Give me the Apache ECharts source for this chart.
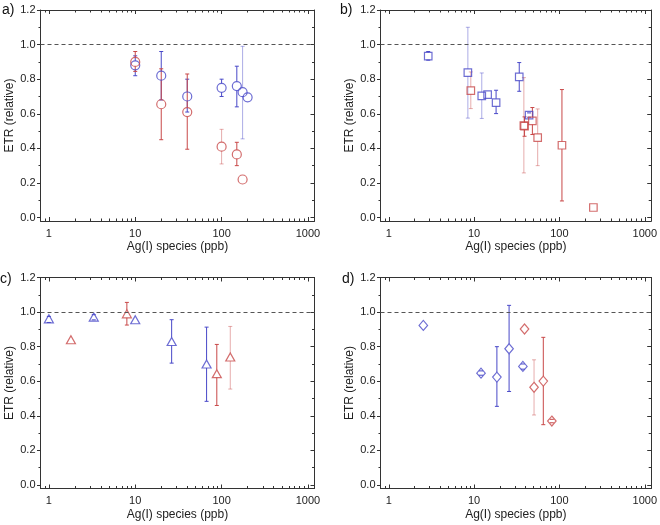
<!DOCTYPE html>
<html>
<head>
<meta charset="utf-8">
<script src="https://cdn.jsdelivr.net/npm/echarts@6/dist/echarts.min.js"></script>
<style>
html,body{margin:0;padding:0;background:#fff;}
#chart{width:660px;height:525px;}
</style>
</head>
<body>
<div id="chart"></div>
<script>
// ---- tick labels / ranges ----
const xTickLabels = [1, 10, 100, 1000];
const yTickLabels = [0.0, 0.2, 0.4, 0.6, 0.8, 1.0, 1.2];
const panelLabels = ['a)', 'b)', 'c)', 'd)'];
const xTitle = 'Ag(I) species (ppb)';
const yTitle = 'ETR (relative)';

// ---- panel a (circles) ----
const aBlueX  = [10, 20, 40, 100, 150, 175, 200];
const aBlueY  = [0.88, 0.82, 0.70, 0.75, 0.76, 0.725, 0.695];
const aBlueLo = [0.82, 0.68, 0.61, 0.70, 0.64, 0.455, null];
const aBlueHi = [0.935, 0.96, 0.80, 0.80, 0.875, 0.99, null];
const aBlueFaint = [0, 0, 0, 0, 0, 1, 0];
const aRedX  = [10, 20, 40, 100, 150, 175];
const aRedY  = [0.90, 0.655, 0.61, 0.41, 0.365, 0.22];
const aRedLo = [0.845, 0.45, 0.395, 0.31, 0.30, null];
const aRedHi = [0.96, 0.86, 0.83, 0.51, 0.435, null];
const aRedFaint = [0, 0, 0, 1, 0, 0];

// ---- panel b (squares) ----
const bBlueX  = [2.9, 8.45, 12.3, 14.4, 18.1, 33.8, 44.1];
const bBlueY  = [0.933, 0.838, 0.703, 0.711, 0.665, 0.813, 0.592];
const bBlueLo = [0.91, 0.575, 0.573, null, 0.601, 0.730, 0.58];
const bBlueHi = [0.96, 1.10, 0.836, null, 0.736, 0.896, 0.605];
const bBlueFaint = [0, 1, 1, 0, 0, 0, 0];
const bRedX  = [9.15, 38.3, 39.0, 48.2, 55.6, 107, 250];
const bRedY  = [0.734, 0.532, 0.528, 0.559, 0.462, 0.418, 0.058];
const bRedLo = [0.630, 0.258, 0.47, 0.48, 0.30, 0.096, null];
const bRedHi = [0.842, 0.809, 0.582, 0.636, 0.628, 0.74, null];
const bRedFaint = [1, 1, 0, 0, 1, 0, 0];

// ---- panel c (triangles) ----
const cBlueX  = [1, 3.31, 10, 26.4, 67];
const cBlueY  = [0.961, 0.971, 0.956, 0.830, 0.70];
const cBlueLo = [0.94, 0.955, null, 0.705, 0.484];
const cBlueHi = [0.975, 0.985, null, 0.956, 0.913];
const cBlueFaint = [0, 0, 0, 0, 0];
const cRedX  = [1.8, 8.0, 88, 126];
const cRedY  = [0.84, 0.99, 0.644, 0.74];
const cRedLo = [null, 0.925, 0.46, 0.555];
const cRedHi = [null, 1.056, 0.813, 0.917];
const cRedFaint = [0, 0, 0, 1];

// ---- panel d (diamonds) ----
const dBlueX  = [2.54, 12.05, 18.5, 25.7, 37.3];
const dBlueY  = [0.923, 0.647, 0.624, 0.788, 0.686];
const dBlueLo = [null, 0.635, 0.455, 0.541, 0.67];
const dBlueHi = [null, 0.66, 0.80, 1.039, 0.70];
const dBlueFaint = [0, 0, 0, 0, 0];
const dRedX  = [39, 50.4, 64.7, 81.5];
const dRedY  = [0.902, 0.565, 0.601, 0.37];
const dRedLo = [null, 0.405, 0.349, 0.36];
const dRedHi = [null, 0.724, 0.854, 0.38];
const dRedFaint = [0, 1, 0, 0];

// ---------------------------------------------------
const BLUE = '#4848c8';
const RED = '#c84848';
const AXIS = '#333';
const FONT = 'Liberation Sans, Arial, sans-serif';
const L = Math.log10;
const xMin = L(0.8), xMax = L(1190);
const yMin = -0.02, yMax = 1.2;
const xMajor = xTickLabels.map(L);
const xMinor = [];
[0.1, 1, 10, 100, 1000].forEach(d => { for (let k = 2; k <= 9; k++) { const v = L(d * k); if (v > xMin && v < xMax) xMinor.push(v); } });
const yMinor = [0.1, 0.3, 0.5, 0.7, 0.9, 1.1];

const grids = [
  {left: 40.5, top: 10, width: 274, height: 211},
  {left: 380.5, top: 10, width: 275, height: 211},
  {left: 40.5, top: 277.5, width: 274, height: 211},
  {left: 380.5, top: 277.5, width: 275, height: 211}
];
const labelPos = [[2, 3], [340, 3], [0, 272], [342, 272]];

const panels = [
  {sym: 'circle', size: 9, blue: [aBlueX, aBlueY, aBlueLo, aBlueHi, aBlueFaint], red: [aRedX, aRedY, aRedLo, aRedHi, aRedFaint]},
  {sym: 'rect', size: 7.5, blue: [bBlueX, bBlueY, bBlueLo, bBlueHi, bBlueFaint], red: [bRedX, bRedY, bRedLo, bRedHi, bRedFaint]},
  {sym: 'triangle', size: [9, 8], blue: [cBlueX, cBlueY, cBlueLo, cBlueHi, cBlueFaint], red: [cRedX, cRedY, cRedLo, cRedHi, cRedFaint]},
  {sym: 'diamond', size: [8.5, 10], blue: [dBlueX, dBlueY, dBlueLo, dBlueHi, dBlueFaint], red: [dRedX, dRedY, dRedLo, dRedHi, dRedFaint]}
];

const xAxes = [], yAxes = [], series = [];
const line = {show: true, onZero: false, lineStyle: {color: AXIS, width: 1}};
const noLine = {show: false, onZero: false};
grids.forEach((g, i) => {
  const base = {gridIndex: i, type: 'value', min: xMin, max: xMax, splitLine: {show: false}};
  // bottom major
  xAxes.push(Object.assign({}, base, {
    position: 'bottom', axisLine: line,
    axisTick: {show: true, inside: true, length: 4, customValues: xMajor, lineStyle: {color: AXIS}},
    axisLabel: {show: true, customValues: xMajor, margin: 7, color: '#222', fontSize: 11, fontFamily: FONT,
      formatter: v => String(Math.round(Math.pow(10, v)))},
    name: xTitle, nameLocation: 'middle', nameGap: 20,
    nameTextStyle: {color: '#222', fontSize: 12, fontFamily: FONT}
  }));
  // bottom minor
  xAxes.push(Object.assign({}, base, {
    position: 'bottom', axisLine: noLine,
    axisTick: {show: true, inside: true, length: 2.5, customValues: xMinor, lineStyle: {color: AXIS}},
    axisLabel: {show: false}
  }));
  // top major
  xAxes.push(Object.assign({}, base, {
    position: 'top', axisLine: line,
    axisTick: {show: true, inside: true, length: 4, customValues: xMajor, lineStyle: {color: AXIS}},
    axisLabel: {show: false}
  }));
  // top minor
  xAxes.push(Object.assign({}, base, {
    position: 'top', axisLine: noLine,
    axisTick: {show: true, inside: true, length: 2.5, customValues: xMinor, lineStyle: {color: AXIS}},
    axisLabel: {show: false}
  }));
  const ybase = {gridIndex: i, type: 'value', min: yMin, max: yMax, splitLine: {show: false}};
  // left major
  yAxes.push(Object.assign({}, ybase, {
    position: 'left', axisLine: line,
    axisTick: {show: true, inside: false, length: 3.5, customValues: yTickLabels, lineStyle: {color: AXIS}},
    axisLabel: {show: true, customValues: yTickLabels, margin: 5, color: '#222', fontSize: 11, fontFamily: FONT,
      formatter: v => v.toFixed(1)},
    name: yTitle, nameLocation: 'middle', nameGap: 25, nameRotate: 90,
    nameTextStyle: {color: '#222', fontSize: 12, fontFamily: FONT}
  }));
  // left minor
  yAxes.push(Object.assign({}, ybase, {
    position: 'left', axisLine: noLine,
    axisTick: {show: true, inside: false, length: 2, customValues: yMinor, lineStyle: {color: AXIS}},
    axisLabel: {show: false}
  }));
  // right major
  yAxes.push(Object.assign({}, ybase, {
    position: 'right', axisLine: line,
    axisTick: {show: true, inside: true, length: 4, customValues: yTickLabels, lineStyle: {color: AXIS}},
    axisLabel: {show: false}
  }));
  // right minor
  yAxes.push(Object.assign({}, ybase, {
    position: 'right', axisLine: noLine,
    axisTick: {show: true, inside: true, length: 2.5, customValues: yMinor, lineStyle: {color: AXIS}},
    axisLabel: {show: false}
  }));

  const xi = i * 4, yi = i * 4;
  const p = panels[i];
  const gap = (Array.isArray(p.size) ? p.size[1] : p.size) / 2;
  [[p.blue, BLUE], [p.red, RED]].forEach(([s, col], k) => {
    const [xs, ys, lo, hi, faint] = s;
    const errData = [];
    xs.forEach((x, j) => { if (lo[j] != null) errData.push([L(x), ys[j], lo[j], hi[j], faint[j]]); });
    series.push({
      type: 'custom', xAxisIndex: xi, yAxisIndex: yi, z: 2, silent: true,
      data: errData,
      renderItem: function (params, api) {
        const x = api.value(0), y = api.value(1), lo = api.value(2), hi = api.value(3), f = api.value(4);
        const c = api.coord([x, y]), cl = api.coord([x, lo]), ch = api.coord([x, hi]);
        const st = {stroke: col, lineWidth: 1, opacity: f ? 0.45 : 1};
        const children = [];
        if (ch[1] < c[1] - gap) children.push({type: 'line', shape: {x1: c[0], y1: ch[1], x2: c[0], y2: c[1] - gap}, style: st});
        if (cl[1] > c[1] + gap) children.push({type: 'line', shape: {x1: c[0], y1: c[1] + gap, x2: c[0], y2: cl[1]}, style: st});
        children.push({type: 'line', shape: {x1: c[0] - 2, y1: ch[1], x2: c[0] + 2, y2: ch[1]}, style: st});
        children.push({type: 'line', shape: {x1: c[0] - 2, y1: cl[1], x2: c[0] + 2, y2: cl[1]}, style: st});
        return {type: 'group', children: children};
      }
    });
    const sc = {
      type: 'scatter', xAxisIndex: xi, yAxisIndex: yi, z: 3, silent: true,
      symbol: p.sym, symbolSize: p.size,
      itemStyle: {color: 'rgba(255,255,255,0)', borderColor: col, borderWidth: 1.2},
      data: xs.map((x, j) => [L(x), ys[j]])
    };
    if (k === 0) {
      sc.markLine = {
        silent: true, symbol: 'none', animation: false,
        label: {show: false},
        lineStyle: {color: '#555', type: [4, 3], width: 1},
        data: [{yAxis: 1}]
      };
    }
    series.push(sc);
  });
});

const chart = echarts.init(document.getElementById('chart'), null, {renderer: 'canvas'});
chart.setOption({
  animation: false,
  backgroundColor: '#fff',
  grid: grids.map(g => Object.assign({containLabel: false}, g)),
  xAxis: xAxes,
  yAxis: yAxes,
  series: series,
  graphic: panelLabels.map((t, i) => ({
    type: 'text', left: labelPos[i][0], top: labelPos[i][1],
    style: {text: t, fill: '#111', font: '14px ' + FONT}
  }))
});
</script>
</body>
</html>
